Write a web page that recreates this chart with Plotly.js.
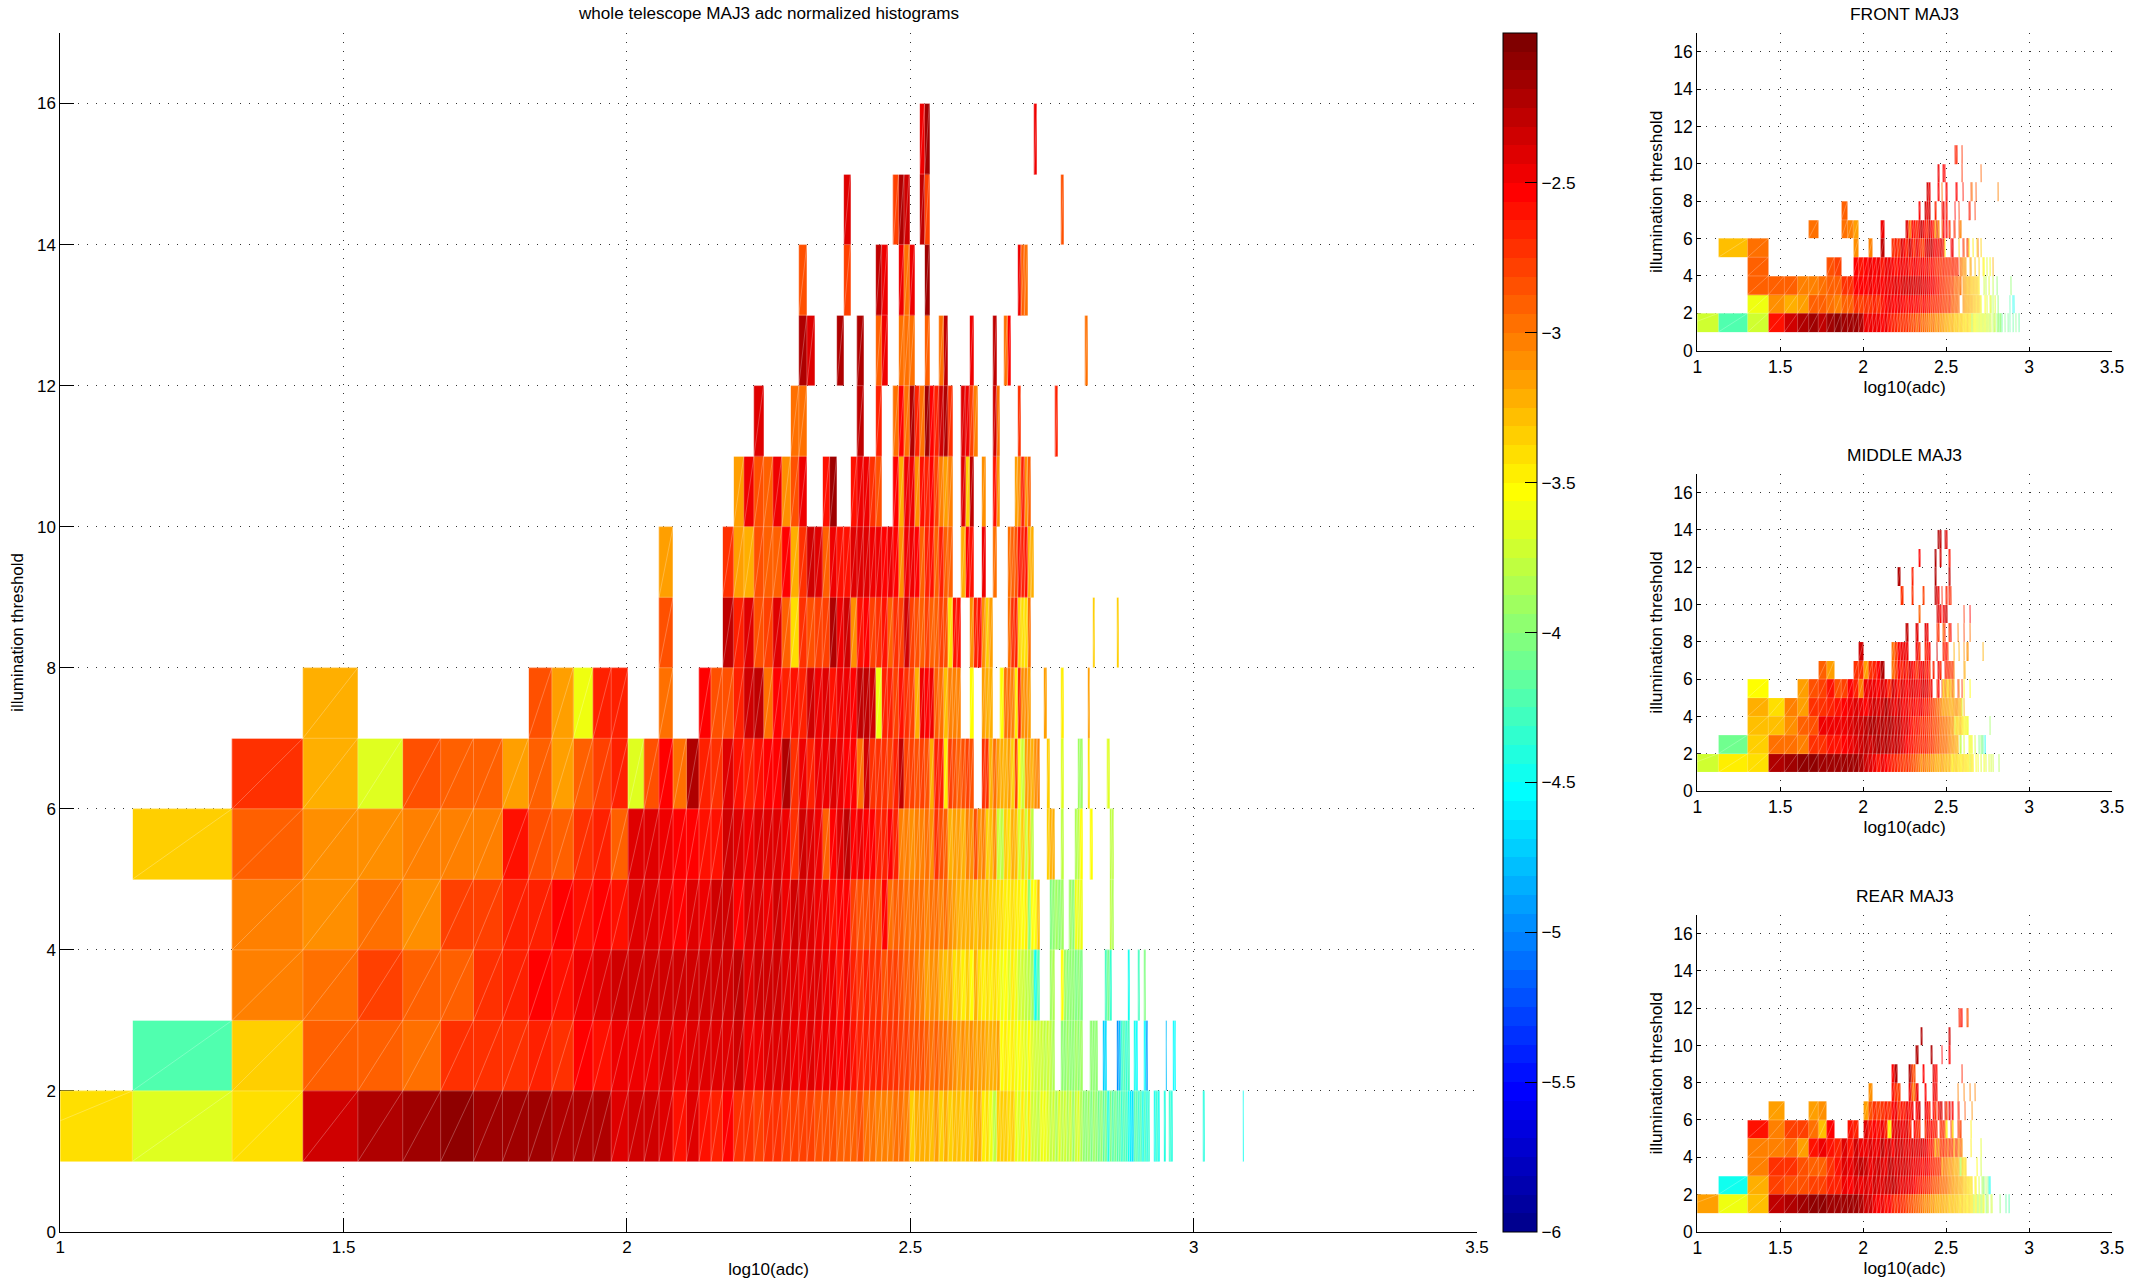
<!DOCTYPE html>
<html><head><meta charset="utf-8">
<script src="https://cdn.plot.ly/plotly-3.0.1.min.js"></script>
<style>html,body{margin:0;padding:0;background:#fff}#c{width:2150px;height:1282px}</style>
</head><body><div id="c"></div>
<script>
// ADC histogram bin edges (bin b spans adcEdges[b-1]..adcEdges[b])
const adcEdges=[6.7,13.4,20.1,26.8,33.5,40.2,46.9,53.6,60.3,67,
73.7,80.4,87.1,93.8,100.5,107.2,113.9,120.6,127.3,134,
140.7,147.4,154.1,160.8,167.5,174.2,180.9,187.6,194.3,201,
207.7,214.4,221.1,227.8,234.5,241.2,247.9,254.6,261.3,268,
274.7,281.4,288.1,294.8,301.5,308.2,314.9,321.6,328.3,335,
341.7,348.4,355.1,361.8,368.5,375.2,381.9,388.6,395.3,402,
408.7,415.4,422.1,428.8,435.5,442.2,448.9,455.6,462.3,469,
475.7,482.4,489.1,495.8,502.5,509.2,515.9,522.6,529.3,536,
542.7,549.4,556.1,562.8,569.5,576.2,582.9,589.6,596.3,603,
609.7,616.4,623.1,629.8,636.5,643.2,649.9,656.6,663.3,670,
676.7,683.4,690.1,696.8,703.5,710.2,716.9,723.6,730.3,737,
743.7,750.4,757.1,763.8,770.5,777.2,783.9,790.6,797.3,804,
810.7,817.4,824.1,830.8,837.5,844.2,850.9,857.6,864.3,871,
877.7,884.4,891.1,897.8,904.5,911.2,917.9,924.6,931.3,938,
944.7,951.4,958.1,964.8,971.5,978.2,984.9,991.6,998.3,1005,
1011.7,1018.4,1025.1,1031.8,1038.5,1045.2,1051.9,1058.6,1065.3,1072,
1078.7,1085.4,1092.1,1098.8,1105.5,1112.2,1118.9,1125.6,1132.3,1139,
1145.7,1152.4,1159.1,1165.8,1172.5,1179.2,1185.9,1192.6,1199.3,1206,
1212.7,1219.4,1226.1];
const thresholdEdges=[1,2,3,4,5,6,7,8,9,10,11,12,13,14,15,16];
const xTicks=[1,1.5,2,2.5,3,3.5];
const yTicks=[0,2,4,6,8,10,12,14,16];
const cbTicks=[-6,-5.5,-5,-4.5,-4,-3.5,-3,-2.5];
// my readings were taken at band tops of the 64-step colormap; this recentres them
const readingOffset=-0.05;

// Each row: {firstBin:[log10 normalized counts...]}, one row per illumination threshold
const mainRows=[
{1:[-3.37,-3.62,-3.37,-2.27,-2.2,-2.12,-2.03,-2.12,-2.12,-2.12,-2.15,-2.15,-2.18,-2.35],15:[-2.3,-2.27,-2.38,-2.55,-2.38,-2.57,-2.58,-2.5,-2.65,-2.7,-2.72,-2.7,-2.7,-2.72,-2.75,-2.72],31:[-2.75,-2.78,-2.8,-2.82,-2.85,-2.85,-2.88,-2.82,-2.9,-2.95,-3,-3,-3,-2.95,-2.95,-3],47:[-3.3,-3.2,-3.15,-3.15,-3.25,-3.1,-3.3,-3.2,-3.3,-3.25,-3.25,-3.3,-3.25,-3.3,-3.2,-3.2],63:[-3.45,-3.35,-3.55,-3.75,-3.3,-3.3,-3.3,-3.35,-3.3,-3.55,-3.6,-3.45,-3.6,-3.4,-3.7,-3.65,-3.75],80:[-3.55,-3.55,-3.6,-3.75,-3.65,-3.8,-3.6,-3.75,-3.65,-3.8,-3.7,-3.85,-3.7,-3.6,-3.8,-3.9],96:[-3.95,-3.85,-4,-3.85,-3.9,-4.05,-3.95,-4.1,-4,-4.35,-4,-4.15,-4.05,-4.2,-4.1,-4.3],112:[-4.15,-4.25,-4.4,-4.55,-4.6,-4.2,-4.15,-4.3,-4.2,-4.4,-4.25,-4.35,-4.3],127:[-4.4,-4.3,-4.45],132:[-4.35],135:[-4.3,-4.35],155:[-4.35],182:[-4.4]},
{2:[-4.15,-3.3,-2.87,-2.87,-2.93,-2.68,-2.7,-2.67,-2.62,-2.65,-2.48,-2.55,-2.45],15:[-2.4,-2.42,-2.38,-2.45,-2.38,-2.35,-2.33,-2.35,-2.32,-2.4,-2.4,-2.33,-2.35,-2.38,-2.42,-2.4],31:[-2.38,-2.42,-2.42,-2.45,-2.48,-2.45,-2.55,-2.6,-2.62,-2.6,-2.62,-2.65,-2.7,-2.7,-2.72,-2.75],47:[-2.78,-2.8,-2.82,-2.85,-2.9,-2.88,-2.95,-2.95,-3,-3.05,-3.08,-3.05,-3.1,-3.05,-3.1,-3.08],63:[-3.12,-3.15,-3.15,-3.2,-3.1,-3.5,-3.45,-3.5,-3.45,-3.55,-3.5,-3.55,-3.6,-3.5,-3.6,-3.65,-3.7,-3.65,-3.75,-3.7,-3.75,-3.8],87:[-3.9,-3.95,-3.85,-3.9,-3.95,-3.85,-3.9,-3.85],98:[-3.9,-3.95,-3.9],103:[-4.7,-4.6],109:[-4.9,-4.75,-4.3,-4.2,-4.3,-4.25],117:[-4.45,-4.5],122:[-4.5,-4.85],133:[-4.75],137:[-4.5,-4.5]},
{3:[-3,-2.93,-2.72,-2.85,-2.85,-2.65,-2.6,-2.5,-2.55,-2.4,-2.35,-2.28,-2.32],15:[-2.3,-2.27,-2.3,-2.28,-2.27,-2.3,-2.3,-2.28,-2.23,-2.33,-2.3,-2.3,-2.32,-2.35,-2.35,-2.4],31:[-2.35,-2.38,-2.45,-2.42,-2.55,-2.45,-2.58,-2.65,-2.62,-2.65,-2.7,-2.8,-2.75,-2.75,-2.8,-2.85],47:[-2.85,-2.9,-3,-3.1,-3.05,-3.05,-3.2,-3.25,-3.15,-3.35,-3.3,-3.4,-3.3,-3.5,-3.2,-3.35],63:[-3.4,-3.35,-3.4,-3.35,-3.4,-3.55,-3.5,-3.6,-3.45,-3.55,-3.65,-3.7,-3.75,-3.75,-3.85,-4.4,-4.2],83:[-3.85,-3.8],87:[-3.5,-3.85,-3.9,-3.95,-3.9,-4,-3.95,-4],104:[-4.25,-4.05,-4.3],114:[-4.4],119:[-4.25],122:[-4]},
{3:[-3,-3.05,-2.92,-3.05,-2.72,-2.72,-2.63,-2.6,-2.5,-2.55,-2.5,-2.55,-2.4],15:[-2.38,-2.38,-2.42,-2.5,-2.33,-2.4,-2.28,-2.28,-2.48,-2.36,-2.38,-2.4,-2.32,-2.4,-2.28,-2.35],31:[-2.38,-2.4,-2.42,-2.55,-2.48,-2.5,-2.75,-2.8,-2.8,-2.75,-2.8,-2.5,-2.9,-2.85,-2.85,-2.9],47:[-2.95,-2.9,-2.95,-3,-2.95,-2.9,-3,-2.95,-3.05,-3.1,-3.15,-3.2,-3.15,-3.2,-3.25,-3.15],63:[-3.25,-3.2,-3.3,-3.3,-3.35,-3.35,-3.4,-3.4,-3.35,-3.45,-3.4,-3.5,-3.45,-3.95,-3.5,-3.5,-3.25],83:[-4,-3.95,-3.85,-3.95,-3.85],90:[-3.85,-3.9,-3.55,-3.6,-3.55],106:[-3.75,-3.8]},
{2:[-3.3,-2.87,-3.05,-3.07,-3,-3,-3,-2.57,-2.8,-2.85,-2.65,-2.6,-2.88],15:[-2.35,-2.35,-2.42,-2.5,-2.48,-2.55,-2.55,-2.28,-2.33,-2.45,-2.38,-2.35,-2.38,-2.4,-2.65,-2.28],31:[-2.38,-2.45,-2.85,-2.5,-2.38,-2.25,-2.5,-2.42,-2.5,-2.5,-2.58,-2.6,-2.5,-2.62,-3,-3],47:[-3.05,-3,-3,-2.95,-3.05,-2.7,-2.8,-2.85,-3.15,-3.1,-3.1,-3.15,-3,-3.05,-2.8,-3.05],63:[-3,-3.3,-3.25,-3.05,-3.7,-3.75,-3.3,-3.35,-3.2,-3.25,-3.6,-3.3,-3.65,-3.3,-3.75],82:[-3.3,-3.2,-3.15],87:[-3.75],92:[-3.8,-3.75,-3.5],98:[-3.5],106:[-3.75,-3.75]},
{3:[-2.7,-3.15,-3.6,-2.8,-2.87,-2.85,-3.12,-2.87,-3.12,-2.87,-2.75,-2.62,-3.6],16:[-2.78,-2.5,-2.95,-2.2,-2.6,-2.68,-2.38,-2.55,-2.6,-2.55,-2.5,-2.5,-2.2,-2.7,-2.4],31:[-2.6,-2.4,-2.42,-2.35,-2.45,-2.5,-2.48,-2.95,-2.3,-2.65,-2.7,-2.65,-2.72,-2.6,-2.25,-2.75],47:[-2.75,-2.78,-2.72,-2.8,-3.2,-2.6,-2.6,-3.4,-2.75,-2.8,-2.85,-2.8,-2.75,-2.8],63:[-2.65,-2.7,-3.2,-2.9,-3.1,-3.2,-3.15,-3.1,-3.3,-2.75,-3.5,-3.65,-3.1,-3.1,-3.2,-3.05,-3],82:[-3.3],87:[-3.6],93:[-3.85,-3.85],97:[-3.35],105:[-3.6]},
{4:[-3.15],10:[-2.8,-3.12,-3.52,-2.6,-2.62],17:[-2.9],20:[-2.5,-2.82,-2.78,-2.6,-2.28,-2.25,-2.95,-2.5,-2.62,-2.55,-2.58],31:[-2.3,-2.4,-2.38,-2.55,-2.42,-2.45,-2.5,-2.22,-2.25,-2.3,-3.55,-2.6,-2.6,-2.75,-2.55,-2.7],47:[-2.75,-3.15,-2.45,-2.5,-2.45,-2.85,-2.95,-3.25,-3,-3,-3],60:[-3.5],63:[-3.1,-3.15,-3.2],68:[-3.5,-2.9,-2.95,-3,-3.4,-2.6,-3.05,-3.05,-3.1],81:[-3.1],87:[-3.45],97:[-3.1]},
{17:[-2.78],22:[-2.25,-2.6,-2.35,-2.8,-2.75,-2.35,-2.85,-3.35,-2.65,-2.8,-2.75,-2.72,-2.2,-2.4,-2.28],37:[-3.05,-2.55,-2.5,-2.75,-2.7,-2.55,-2.85,-2.65,-2.75,-2.3,-2.75,-2.8,-2.85,-2.75,-2.85,-2.85,-2.75,-2.8,-3.35,-2.55,-2.55],60:[-3.05,-2.6,-2.55,-3.05,-3.3,-3.1],70:[-2.95,-2.7,-2.6,-3.3,-3.35,-3.35,-2.9],99:[-3.3],109:[-3.3]},
{17:[-3.1],22:[-2.65,-3.12,-3.15,-2.82,-2.85,-2.85,-2.5,-3.2,-2.65,-2.3,-2.35,-2.85,-2.45,-2.55,-2.55],37:[-2.35,-2.35,-2.38,-2.4,-2.42,-2.5,-2.45,-2.5,-3.05,-2.45,-2.45,-2.5,-2.85,-2.6,-2.55,-2.85,-2.6,-2.85,-2.85],58:[-3.15,-2.5,-2.55],63:[-2.4],66:[-2.9],70:[-2.95,-2.85,-2.8,-2.55,-2.6,-2.55,-3.15,-3.2]},
{23:[-3.1,-2.4,-2.8,-2.85,-2.4,-3.05,-2.8,-2.4],33:[-2.55,-2.1],37:[-2.55,-2.4,-2.42,-2.7,-2.8],44:[-2.5,-3.2,-2.4,-2.4,-3.05,-2.55,-2.6,-2.5,-2.75,-3,-3.1,-3],58:[-2.35,-3.3,-2.25],63:[-3.05],66:[-2.55,-3.05],72:[-3.1,-3.05,-2.6,-3.05,-2.85]},
{25:[-2.38],29:[-2.95,-2.95],38:[-2.25],41:[-2.6],44:[-2.95,-2.5,-2.95,-2.15,-2.6,-2.95,-2.12,-2.5,-2.6,-2.3,-2.2,-2.65],58:[-2.35,-2.4,-2.75,-3],66:[-2.3,-2.9],73:[-2.65],85:[-2.6]},
{30:[-2.15,-2.35],35:[-2.2],38:[-2.2],41:[-2.85,-2.45],45:[-2.9,-2.95,-2.9],50:[-2.85],53:[-2.95,-2.25],60:[-2.45],66:[-2.25],69:[-2.95,-2.5],96:[-2.9]},
{30:[-2.78],36:[-2.75],41:[-2.22,-2.4],45:[-2.4,-2.9,-2.45],50:[-2.1],73:[-2.45,-2.85,-2.9]},
{36:[-2.37],44:[-2.75,-2.2,-2.3],49:[-2.25,-2.75],87:[-2.8]},
{49:[-2.45,-2.12],78:[-2.45]}
];
const frontRows=[
{1:[-3.7,-4.2,-3.7,-2.55,-2.3,-2.2,-2.1,-2.22,-2.1,-2.07,-2.1,-2.1,-2.1,-2.2],15:[-2.42,-2.45,-2.4,-2.45,-2.5,-2.45,-2.55,-2.6,-2.6,-2.65,-2.65,-2.7,-2.7,-2.75,-2.8,-2.75],31:[-2.85,-2.75,-2.9,-2.85,-2.95,-2.9,-3,-3,-2.95,-3.05,-3.1,-3,-3.1,-3.05,-3.1,-3.2],47:[-3.15,-3.1,-3.25,-3.2,-3.2,-3.3,-3.25,-3.3,-3.2,-3.35,-3.3,-3.25,-3.4,-3.3,-3.35,-3.4],63:[-3.3,-3.45,-3.35,-3.4,-3.9,-3.45,-3.55,-3.5,-3.55,-3.6,-3.55,-3.7,-3.6,-3.55,-3.6,-3.65,-3.6,-3.55,-3.7,-3.6,-3.75,-3.6,-3.65,-3.8,-3.6,-3.7],90:[-3.75,-3.8,-3.7],95:[-3.9,-3.85],98:[-4,-3.9],101:[-3.95,-4.1],104:[-4.1],106:[-4,-4.1],110:[-4.15,-4.05],114:[-4.1,-4.15],118:[-4.2,-4.1],124:[-4,-4.1],129:[-4.1],132:[-4.1],138:[-4.2]},
{3:[-3.55,-3.05,-3.15,-3.1,-2.85,-2.85,-2.9,-3,-2.85,-2.85,-2.7,-2.75,-2.7],16:[-2.65,-2.6,-2.7,-2.55,-2.5,-2.45,-2.5,-2.5,-2.45,-2.5,-2.5,-2.55,-2.5,-2.5,-2.55],31:[-2.5,-2.55,-2.6,-2.5,-2.55,-2.6,-2.55,-2.65,-2.6,-2.65,-2.6,-2.7,-2.7,-2.65,-2.75,-2.7],47:[-2.75,-2.8,-2.7,-2.8,-2.85,-2.8,-2.9,-2.85,-2.9,-2.95],59:[-3.1,-3,-3.15,-3.1,-3.2,-3.1,-3.25,-3.2,-3.15,-3.25,-3.3,-3.2,-3.35,-3.3,-3.25,-3.3,-3.35,-3.55],80:[-3.5],83:[-3.6],86:[-3.55,-3.65],90:[-3.8],92:[-3.6],96:[-3.9],100:[-3.7],104:[-4.1],110:[-4.1],114:[-4.2,-4.3],119:[-4.45,-4.5,-4.4]},
{3:[-2.85,-2.85,-2.85,-3,-3,-2.95,-2.85,-2.85,-2.65,-2.7,-2.5,-2.5],15:[-2.5,-2.45,-2.5,-2.45,-2.5,-2.4,-2.45,-2.4,-2.35,-2.4,-2.35,-2.3,-2.35,-2.3,-2.35,-2.3],31:[-2.35,-2.3,-2.35,-2.4,-2.35,-2.45,-2.4,-2.5,-2.45,-2.55,-2.6,-2.55,-2.65,-2.6,-2.7,-2.7],47:[-2.75,-2.7,-2.75,-2.8,-2.75,-2.85,-2.9,-2.85,-2.95,-2.9,-2.95],59:[-3.1,-3.05,-3.2,-3.1,-3.25,-3.2,-3.15,-3.3,-3.25,-3.3,-3.2,-3.35,-3.25,-3.3,-3.3,-3.4],79:[-3.7],82:[-3.75],85:[-3.6],88:[-3.8],90:[-3.75],95:[-3.9],104:[-4],116:[-3.9]},
{3:[-2.85],9:[-2.8,-2.75],13:[-2.5,-2.55,-2.5,-2.45,-2.5,-2.45,-2.55,-2.45,-2.4,-2.5,-2.55,-2.5,-2.45,-2.5,-2.45,-2.55],29:[-2.5,-2.45,-2.5,-2.55,-2.45,-2.5,-2.55,-2.45,-2.6,-2.5,-2.55,-2.6,-2.7,-2.6,-2.65,-2.7],45:[-2.6,-2.65,-2.7,-2.6,-2.7,-2.65,-2.6,-2.7,-2.6,-2.65,-2.6],57:[-2.95,-3,-3.05,-3.1,-3,-3.15],65:[-3.2,-3.1],70:[-3.25],74:[-3.3],78:[-3.45,-3.5],83:[-3.6],86:[-3.55],90:[-3.2]},
{2:[-3.25,-2.9],13:[-3.05],16:[-3],19:[-2.25],22:[-2.65,-2.6,-2.7,-2.35,-2.5,-2.6,-2.3,-2.55,-2.65,-2.4,-2.6,-2.7,-2.75,-2.4,-2.3,-2.35],38:[-2.25,-2.4,-2.5,-2.35,-2.55,-2.4,-2.3,-2.6,-3.5],50:[-2.5,-2.4],56:[-3.3],59:[-2.6,-2.8],63:[-2.75,-3.4],68:[-3.45],72:[-3.35,-2.9],76:[-3.3]},
{7:[-2.9],11:[-2.9,-3,-3.1],19:[-2.4],27:[-2.35,-2.9,-2.5,-2.55,-2.6,-2.45,-2.25,-2.4,-2.55,-2.6,-2.3,-2.5,-2.6,-3.1],41:[-2.35,-3],44:[-2.9,-2.5],47:[-2.5],49:[-2.7],52:[-2.6,-2.7],56:[-2.8,-3]},
{11:[-2.85],32:[-2.5],35:[-2.3,-2.45,-2.3],40:[-2.6],44:[-2.6,-2.45],47:[-2.55],53:[-2.5],56:[-2.7],64:[-2.55,-2.6],70:[-2.7]},
{36:[-2.3,-2.45],42:[-2.5],44:[-2.9],47:[-2.5],54:[-2.5],59:[-2.55],66:[-2.8,-2.9],71:[-2.8],96:[-3]},
{42:[-2.4],45:[-2.5,-2.5],58:[-2.7],76:[-2.85]},
{53:[-2.6,-2.6],58:[-2.7]}
];
const middleRows=[
{1:[-3.65,-3.4,-3.38,-2.15,-2.12,-2.03,-2.05,-2.08,-2.08,-2.1,-2.1,-2.1,-2.1,-2.15],15:[-2.3,-2.35,-2.45,-2.55,-2.45,-2.5,-2.55,-2.6,-2.6,-2.65,-2.7,-2.75,-2.7,-2.75,-2.8,-2.8],31:[-2.85,-2.9,-3.05,-2.9,-3,-3.05,-3,-3.1,-3.05,-3.15,-3.1,-3.2,-3.15,-3.05,-3.2,-3.25],47:[-3.2,-3.3,-3.2,-3.3,-3.4,-3.25,-3.35,-3.3,-3.4,-3.3,-3.4,-3.45,-3.3,-3.35,-3.4,-3.35],63:[-3.45,-3.4,-3.7,-3.35,-3.45,-3.4],71:[-3.5],73:[-3.55],76:[-3.6],79:[-3.55],82:[-3.6],85:[-3.6],87:[-3.7],90:[-3.7],98:[-3.8]},
{2:[-4.05,-3.3,-2.9,-2.95,-3,-2.65,-2.7,-2.55,-2.55,-2.5,-2.45,-2.35,-2.3],15:[-2.25,-2.3,-2.25,-2.2,-2.25,-2.2,-2.25,-2.3,-2.25,-2.3,-2.35,-2.4,-2.5,-2.55,-2.55,-2.6],31:[-2.6,-2.65,-2.6,-2.7,-2.6,-2.7,-2.75,-2.7,-2.75,-2.8,-2.85,-2.8,-2.9,-2.85,-2.95,-2.9],47:[-2.95,-3,-3.05,-3,-3.1,-3.05,-3.1,-3.15,-3.2],57:[-3.75],60:[-3.6],64:[-3.55,-3.5,-3.6,-3.5],70:[-3.7],74:[-4],76:[-3.9,-4],78:[-4.1],80:[-4.4]},
{3:[-3.22,-3.22,-3.02,-2.85,-2.8,-2.45,-2.45,-2.45,-2.4,-2.35,-2.3,-2.3],15:[-2.25,-2.2,-2.2,-2.25,-2.2,-2.25,-2.2,-2.25,-2.3,-2.25,-2.35,-2.4,-2.35,-2.5,-2.55,-2.6],31:[-2.55,-2.6,-2.65,-2.6,-2.7,-2.65,-2.75,-2.7,-2.8,-2.75,-2.85,-2.8,-2.9,-2.85,-2.95,-3],47:[-2.95,-3.05,-3,-3.1,-3.05,-3.15,-3.6,-3.3,-3.35,-3.3,-3.25,-3.4,-3.35,-3.5,-3.55,-3.45,-3.55],86:[-3.85],88:[-3.9]},
{3:[-3.18,-3.35,-3,-3.1,-2.7,-2.7,-2.6,-2.55,-2.5,-2.45,-2.35,-2.4],15:[-2.5,-2.35,-2.3,-2.35,-2.3,-2.2,-2.3,-2.35,-2.4,-2.3,-2.4,-2.5,-2.45,-2.55,-2.45,-2.5],31:[-2.55,-2.5,-2.45,-2.55,-2.6,-2.55,-2.65,-2.7,-2.75,-2.8,-2.9,-2.85,-3,-3.05,-3.1,-3.05],47:[-3.1,-3.05,-3.15,-3.1,-3.15,-3.05,-3.1,-3.05,-3.1,-3.15,-3.2,-3.6],60:[-3.2]},
{3:[-3.5],6:[-3.1,-2.8,-2.75,-2.55,-2.8,-2.75,-2.5,-2.6,-3,-2.4],16:[-2.45,-2.4,-2.5,-2.35,-2.45,-2.6,-2.3,-2.4,-2.55,-2.35,-2.45,-2.5,-2.4,-2.35,-2.45,-2.4],32:[-2.5,-2.35,-2.3,-2.4,-2.35,-2.6,-2.45],41:[-2.7,-2.5],44:[-2.75,-3.3,-2.85,-3.2,-3.4,-3.1,-3.3,-2.9,-3.2],55:[-2.65,-3],58:[-2.7],60:[-3.5],65:[-3.5]},
{8:[-2.85,-3.1],13:[-2.65,-2.7,-3.1,-2.7,-2.6,-2.5,-2.2],22:[-2.95,-2.75,-2.5,-2.6,-2.4,-2.6,-2.35,-2.5,-2.55,-2.7,-2.45,-2.5,-2.35,-2.6,-2.5,-2.7],39:[-2.6],42:[-2.4,-2.6],46:[-2.5,-2.7,-2.55,-2.65,-2.75,-2.7,-3],60:[-3.1,-3.2]},
{14:[-2.3],22:[-2.95,-2.75,-2.5,-2.45,-2.4,-2.4],31:[-2.4,-2.65],35:[-2.6,-2.55,-2.5],41:[-2.3],45:[-2.6,-2.7,-2.5,-2.8],52:[-3.2],56:[-3.2],60:[-3.05],63:[-3.05],78:[-3.15]},
{27:[-2.25],31:[-2.35],35:[-2.35,-2.4],41:[-2.7,-2.65],45:[-2.85,-2.6],49:[-2.65,-2.5],55:[-3],60:[-2.75],65:[-2.9]},
{32:[-2.85],41:[-2.3,-2.35,-2.5],45:[-2.4,-2.35,-2.3],60:[-2.7],65:[-2.5]},
{25:[-2.7],29:[-2.7],34:[-2.75],40:[-2.25,-2.3,-2.45],44:[-2.6],47:[-2.6],49:[-2.6,-2.7]},
{24:[-2.2],29:[-2.6],40:[-2.15],49:[-2.25]},
{32:[-2.5],40:[-2.2],43:[-2.3],49:[-2.55]},
{42:[-2.2,-2.25],46:[-2.3,-2.35]}
];
const rearRows=[
{1:[-3.1,-3.55,-3.25,-2.25,-2.17,-2.12,-2.03,-2.07,-2.08,-2.1,-2.1,-2.1,-2.12,-2.15],15:[-2.3,-2.3,-2.42,-2.5,-2.4,-2.55,-2.5,-2.6,-2.65,-2.6,-2.7,-2.7,-2.75,-2.8,-2.8,-2.85],31:[-2.85,-2.95,-2.9,-3,-3.05,-3,-3.05,-3.1,-3.05,-3.15,-3.1,-3.15,-3.2,-3.1,-3.2,-3.25],47:[-3.2,-3.15,-3.3,-3.2,-3.25,-3.3,-3.15,-3.3,-3.25,-3.3,-3.35,-3.25,-3.3,-3.4,-3.3,-3.35],63:[-3.4,-3.3,-3.35,-3.45,-3.35,-3.4,-3.85,-3.5,-3.4,-3.6,-3.9,-3.55,-3.6,-3.85,-3.75,-3.6,-3.55],81:[-3.9,-4,-3.8,-3.75],87:[-3.7,-3.8,-3.7],97:[-4],99:[-3.95],108:[-4.1],110:[-4.15],112:[-4.15]},
{2:[-4.45,-3.2,-2.75,-2.8,-2.8,-2.75,-2.75,-2.6,-2.6,-2.45,-2.5,-2.35,-2.4],15:[-2.35,-2.4,-2.3,-2.35,-2.35,-2.3,-2.3,-2.25,-2.3,-2.35,-2.4,-2.35,-2.4,-2.45,-2.4,-2.5],31:[-2.55,-2.6,-2.55,-2.65,-2.6,-2.7,-2.7,-2.75,-2.8,-2.8,-2.85,-2.8,-2.9,-2.85,-2.9,-2.95],47:[-2.9,-3,-3.05,-3,-3.1,-3.05,-3.15,-3.1,-3.2,-3.15,-3.2,-3.15,-3.25,-3.3,-3.3,-3.25],63:[-3.35,-3.3,-3.4,-3.35,-3.35],70:[-3.4,-3.5],74:[-3.6],77:[-3.8,-3.85,-3.9],81:[-3.8,-3.75],84:[-3.9,-4.4,-4.45]},
{3:[-3,-2.7,-2.65,-2.8,-2.85,-2.85,-2.65,-2.55,-2.35,-2.4,-2.3,-2.25,-2.3],16:[-2.45,-2.35,-2.3,-2.35,-2.4,-2.25,-2.3,-2.35,-2.3,-2.35,-2.3,-2.35,-2.35,-2.4,-2.45,-2.4],32:[-2.45,-2.5,-2.55,-2.45,-2.5,-2.55,-2.6,-2.6,-2.65,-2.7,-2.65,-2.7,-3.3,-2.9,-3,-3],48:[-3.05,-3.1,-3,-3.1,-3.15,-3.2,-3.15,-3.2,-3.15,-3.8,-3.3,-3.3,-3.4,-3.35,-3.3],72:[-3.5],76:[-3.65]},
{3:[-3,-3,-2.95,-3.1,-2.55,-2.45,-2.55,-2.6,-2.35,-2.55,-2.3,-2.4,-2.45],16:[-2.35,-2.4,-2.4,-2.25,-2.4,-2.3,-2.5,-2.3,-2.35,-2.3,-2.4,-2.35,-2.4,-2.3,-2.4,-2.35],32:[-2.4,-2.3,-2.45,-2.35,-2.5,-2.6,-2.55,-2.65,-3.2,-2.7,-3.05,-2.65,-2.8,-2.6,-2.9,-2.7],48:[-3.05,-2.65,-2.8,-2.7,-3.4,-2.8,-2.75,-3,-3.1,-2.85,-3.05],66:[-3.45],76:[-3.6]},
{3:[-2.55,-3,-2.75,-2.75,-2.9,-3.25,-2.5],12:[-2.55,-2.6],15:[-2.35,-2.55,-2.5,-2.55,-2.45,-2.6,-3.4,-2.4,-2.35,-2.35,-2.45,-2.4,-2.35,-2.6],30:[-2.5,-2.6,-2.65],35:[-2.65,-2.4,-2.6,-2.5,-2.6,-2.55,-2.7],43:[-2.7,-2.6,-2.65,-2.8,-3.4],50:[-2.55,-3.3],55:[-2.6,-2.8,-2.75],66:[-3.4]},
{4:[-3.1],7:[-3.1,-3.05],15:[-3.1,-2.8,-2.7,-2.75,-2.65,-2.6,-2.7,-2.5,-2.4,-2.65,-2.55,-2.6,-2.4,-2.55,-2.4],31:[-2.5,-2.3],35:[-2.4,-2.5,-2.6],39:[-2.5,-2.65],42:[-2.55,-2.3,-2.4],46:[-2.35,-2.7],49:[-2.4],51:[-2.5],55:[-2.7,-2.55],61:[-2.8],67:[-3.05]},
{16:[-3.05],22:[-2.55,-2.65,-2.75],28:[-2.4,-2.9,-2.9,-2.45],35:[-2.5],39:[-2.4,-2.45,-2.55],55:[-3],60:[-3],65:[-3],70:[-3]},
{22:[-2.5,-2.15],28:[-2.15,-2.75,-2.8],34:[-2.5],39:[-2.35,-2.5,-2.55],58:[-2.6]},
{31:[-2.15],38:[-2.2],44:[-2.5],49:[-2.5]},
{33:[-2.2],49:[-2.3]},
{56:[-2.6,-2.6,-2.5],63:[-2.8]}
];

const logEdges=adcEdges.map(Math.log10);
const nBins=adcEdges.length-1;
function expand(rows){
  return rows.map(r=>{
    const out=new Array(nBins).fill(null);
    Object.keys(r).forEach(k=>r[k].forEach((v,j)=>{out[(+k)-1+j]=v+readingOffset;}));
    return out;
  });
}
function jetScale(n){
  const c=v=>Math.round(255*Math.max(0,Math.min(1,v)));
  const s=[];
  for(let k=0;k<n;k++){
    const t=(k+1)/n;
    const col=`rgb(${c(Math.min(4*t-1.5,-4*t+4.5))},${c(Math.min(4*t-.5,-4*t+3.5))},${c(Math.min(4*t+.5,-4*t+2.5))})`;
    s.push([k/n,col],[(k+1)/n,col]);
  }
  return s;
}
const scale=jetScale(64);
const font='"Liberation Sans",Arial,sans-serif';
const W=2150,H=1282;
const cbBox={x:[1503,1537],y:[33,1232]};
const panels=[
 {name:'',rows:mainRows,x:[60.3,1477],y:[33,1232],tick:17,title:'whole telescope MAJ3 adc normalized histograms',ticklen:14,alpha:.25,standoff:6,ts:17.1},
 {name:'2',rows:frontRows,x:[1697.3,2112],y:[33,350.7],tick:17.5,title:'FRONT MAJ3',ticklen:4,alpha:.24,standoff:3,ts:17.4},
 {name:'3',rows:middleRows,x:[1697.3,2112],y:[474,791],tick:17.5,title:'MIDDLE MAJ3',ticklen:4,alpha:.24,standoff:3,ts:17.4},
 {name:'4',rows:rearRows,x:[1697.3,2112],y:[915,1231.7],tick:17.5,title:'REAR MAJ3',ticklen:4,alpha:.24,standoff:3,ts:17.4}
];
const traces=[],layout={width:W,height:H,margin:{l:0,r:0,t:0,b:0},paper_bgcolor:'#fff',plot_bgcolor:'#fff',font:{family:font,color:'#000',size:16},showlegend:false,annotations:[],hovermode:false,
  shapes:cbTicks.slice(1).map(t=>({type:'line',xref:'paper',yref:'paper',x0:cbBox.x[0]/W,x1:(cbBox.x[0]+12)/W,y0:1-cbBox.y[1]/H+(t+6)/4*(cbBox.y[1]-cbBox.y[0])/H,y1:1-cbBox.y[1]/H+(t+6)/4*(cbBox.y[1]-cbBox.y[0])/H,line:{color:'#000',width:1}}))};
panels.forEach((p,pi)=>{
  const z=expand(p.rows);
  const ys=thresholdEdges.slice(0,p.rows.length+1);
  traces.push({type:'heatmap',x:logEdges,y:ys,z:z,zmin:-6,zmax:-2,zsmooth:false,colorscale:scale,xaxis:'x'+p.name,yaxis:'y'+p.name,hoverinfo:'skip',
    showscale:pi===0,
    colorbar:pi===0?{x:cbBox.x[0]/W,xanchor:'left',xref:'paper',y:1-(cbBox.y[0]+cbBox.y[1])/2/H,yanchor:'middle',yref:'paper',thickness:34,thicknessmode:'pixels',len:cbBox.y[1]-cbBox.y[0],lenmode:'pixels',xpad:0,ypad:0,outlinecolor:'#000',outlinewidth:1,ticks:'inside',ticklen:12,tickcolor:'#000',tickmode:'array',tickvals:cbTicks,tickfont:{size:17.3,family:font}}:undefined});
  // faint renderer seams along every cell edge and diagonal
  const sx=[],sy=[];
  z.forEach((row,r)=>row.forEach((v,b)=>{
    if(v===null)return;
    const x0=logEdges[b],x1=logEdges[b+1],y0=ys[r],y1=ys[r+1];
    sx.push(x0,x1,null,x0,x0,null,x0,x1,null);
    sy.push(y0,y1,null,y0,y1,null,y1,y1,null);
  }));
  traces.push({type:'scatter',mode:'lines',x:sx,y:sy,xaxis:'x'+p.name,yaxis:'y'+p.name,hoverinfo:'skip',line:{color:`rgba(255,255,255,${p.alpha})`,width:1},connectgaps:false});
  const axCommon={showline:true,linecolor:'#000',linewidth:1,mirror:false,ticks:'inside',ticklen:p.ticklen,tickcolor:'#000',tickwidth:1,showgrid:true,gridcolor:'#333',griddash:'1px,8px',gridwidth:1,zeroline:false,tickfont:{size:p.tick,family:font},automargin:false,layer:'below traces'};
  layout['xaxis'+p.name]=Object.assign({},axCommon,{domain:[p.x[0]/W,p.x[1]/W],range:[1,3.5],anchor:'y'+p.name,tickmode:'array',tickvals:xTicks,ticktext:xTicks.map(String),title:{text:'log10(adc)',standoff:p.standoff,font:{size:pi===0?17.1:17.4,family:font}}});
  layout['yaxis'+p.name]=Object.assign({},axCommon,{domain:[1-p.y[1]/H,1-p.y[0]/H],range:[0,17],anchor:'x'+p.name,tickmode:'array',tickvals:yTicks,ticktext:yTicks.map(String),title:{text:'illumination threshold',standoff:p.standoff+3,font:{size:pi===0?16.9:17.3,family:font}}});
  layout.annotations.push({xref:'paper',yref:'paper',x:(p.x[0]+p.x[1])/2/W,y:1-(p.y[0]-19)/H,xanchor:'center',yanchor:'middle',showarrow:false,text:p.title,font:{size:p.ts,family:font,color:'#000'}});
});
Plotly.newPlot('c',traces,layout,{displayModeBar:false,responsive:false});
</script></body></html>
